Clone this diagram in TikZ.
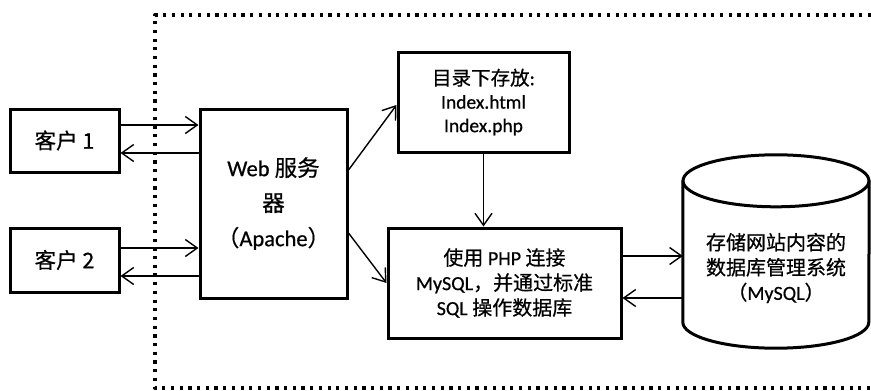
\documentclass[tikz,border=0pt]{standalone}
\usepackage{fontspec}
\setmainfont{Carlito}[FakeBold=0.6]
\newfontfamily\zhfont{Noto Sans CJK SC}[FakeBold=0.6]
\newcommand{\zh}[1]{{\zhfont #1}}
\usetikzlibrary{arrows.meta}

\begin{document}
\begin{tikzpicture}[x=1pt,y=-1pt,line cap=round,line join=round,>={Straight Barb[length=12pt,width=17pt]},
  box/.style={draw,line width=3pt,line join=miter,align=center,inner sep=0pt},
  link/.style={->,line width=1.4pt},
  every node/.style={font=\fontsize{20}{25}\selectfont}]
\useasboundingbox (0,0) rectangle (871,391);
% server side frame
\draw[line width=3.3pt,line cap=butt,dash pattern=on 3.2pt off 5.5pt] (871,15) -- (155,15) -- (155,388) -- (871,388);
% clients
\node[box,minimum width=109,minimum height=63,font=\fontsize{21.5}{25}\selectfont] (c1) at (64.5,140.5) {\zh{客户 1}};
\node[box,minimum width=109,minimum height=64,font=\fontsize{21.5}{25}\selectfont] (c2) at (64.5,260) {\zh{客户 2}};
% web server
\node[box,minimum width=147,minimum height=189,font=\fontsize{22.5}{35}\selectfont] (web) at (273.5,203.5)
  {Web \zh{服务}\\\zh{器}\\\zh{（}Apache\zh{）}};
\node[box,minimum width=171,minimum height=100,font=\fontsize{19.5}{23.5}\selectfont] (idx) at (483.5,102)
  {\zh{目录下存放}:\\Index.html\\Index.php};
\node[box,minimum width=233,minimum height=110] (php) at (504.5,283)
  {\zh{使用} PHP \zh{连接}\\MySQL\zh{，并通过标准}\\SQL \zh{操作数据库}};
% database
\node[minimum width=186,minimum height=193] (db) at (776,251.5) {};
\draw[line width=3pt] ([yshift=-26pt]db.north) ellipse [x radius=93pt,y radius=26pt];
\draw[line width=3pt] ([yshift=-26pt]db.north west) -- ([yshift=26pt]db.south west)
  arc[start angle=180,end angle=360,x radius=93pt,y radius=26pt] -- ([yshift=-26pt]db.north east);
\node[align=center] (dbtxt) at ([yshift=-16.5pt]db.center) {\zh{存储网站内容的}\\\zh{数据库管理系统}\\\zh{（}MySQL\zh{）}};
% connectors
\draw[link] ([yshift=15.5pt]c1.east) -- ([yshift=15.5pt]c1.east -| web.west);
\draw[link] ([yshift=-12.5pt]web.west |- c1.east) -- ([yshift=-12.5pt]c1.east);
\draw[link] ([yshift=12pt]c2.east) -- ([yshift=12pt]c2.east -| web.west);
\draw[link] ([yshift=-16pt]web.west |- c2.east) -- ([yshift=-16pt]c2.east);
\draw[link] ([yshift=33.5pt]web.east) -- ([yshift=-3pt]idx.west);
\draw[link] ([yshift=-29.5pt]web.east) -- (php.west);
\draw[link] (idx.south) -- (idx.south |- php.north);
\draw[link] ([yshift=27pt]php.east) -- ([yshift=27pt]php.east -| db.west);
\draw[link] ([yshift=-15pt]db.west |- php.east) -- ([yshift=-15pt]php.east);
\end{tikzpicture}
\end{document}
